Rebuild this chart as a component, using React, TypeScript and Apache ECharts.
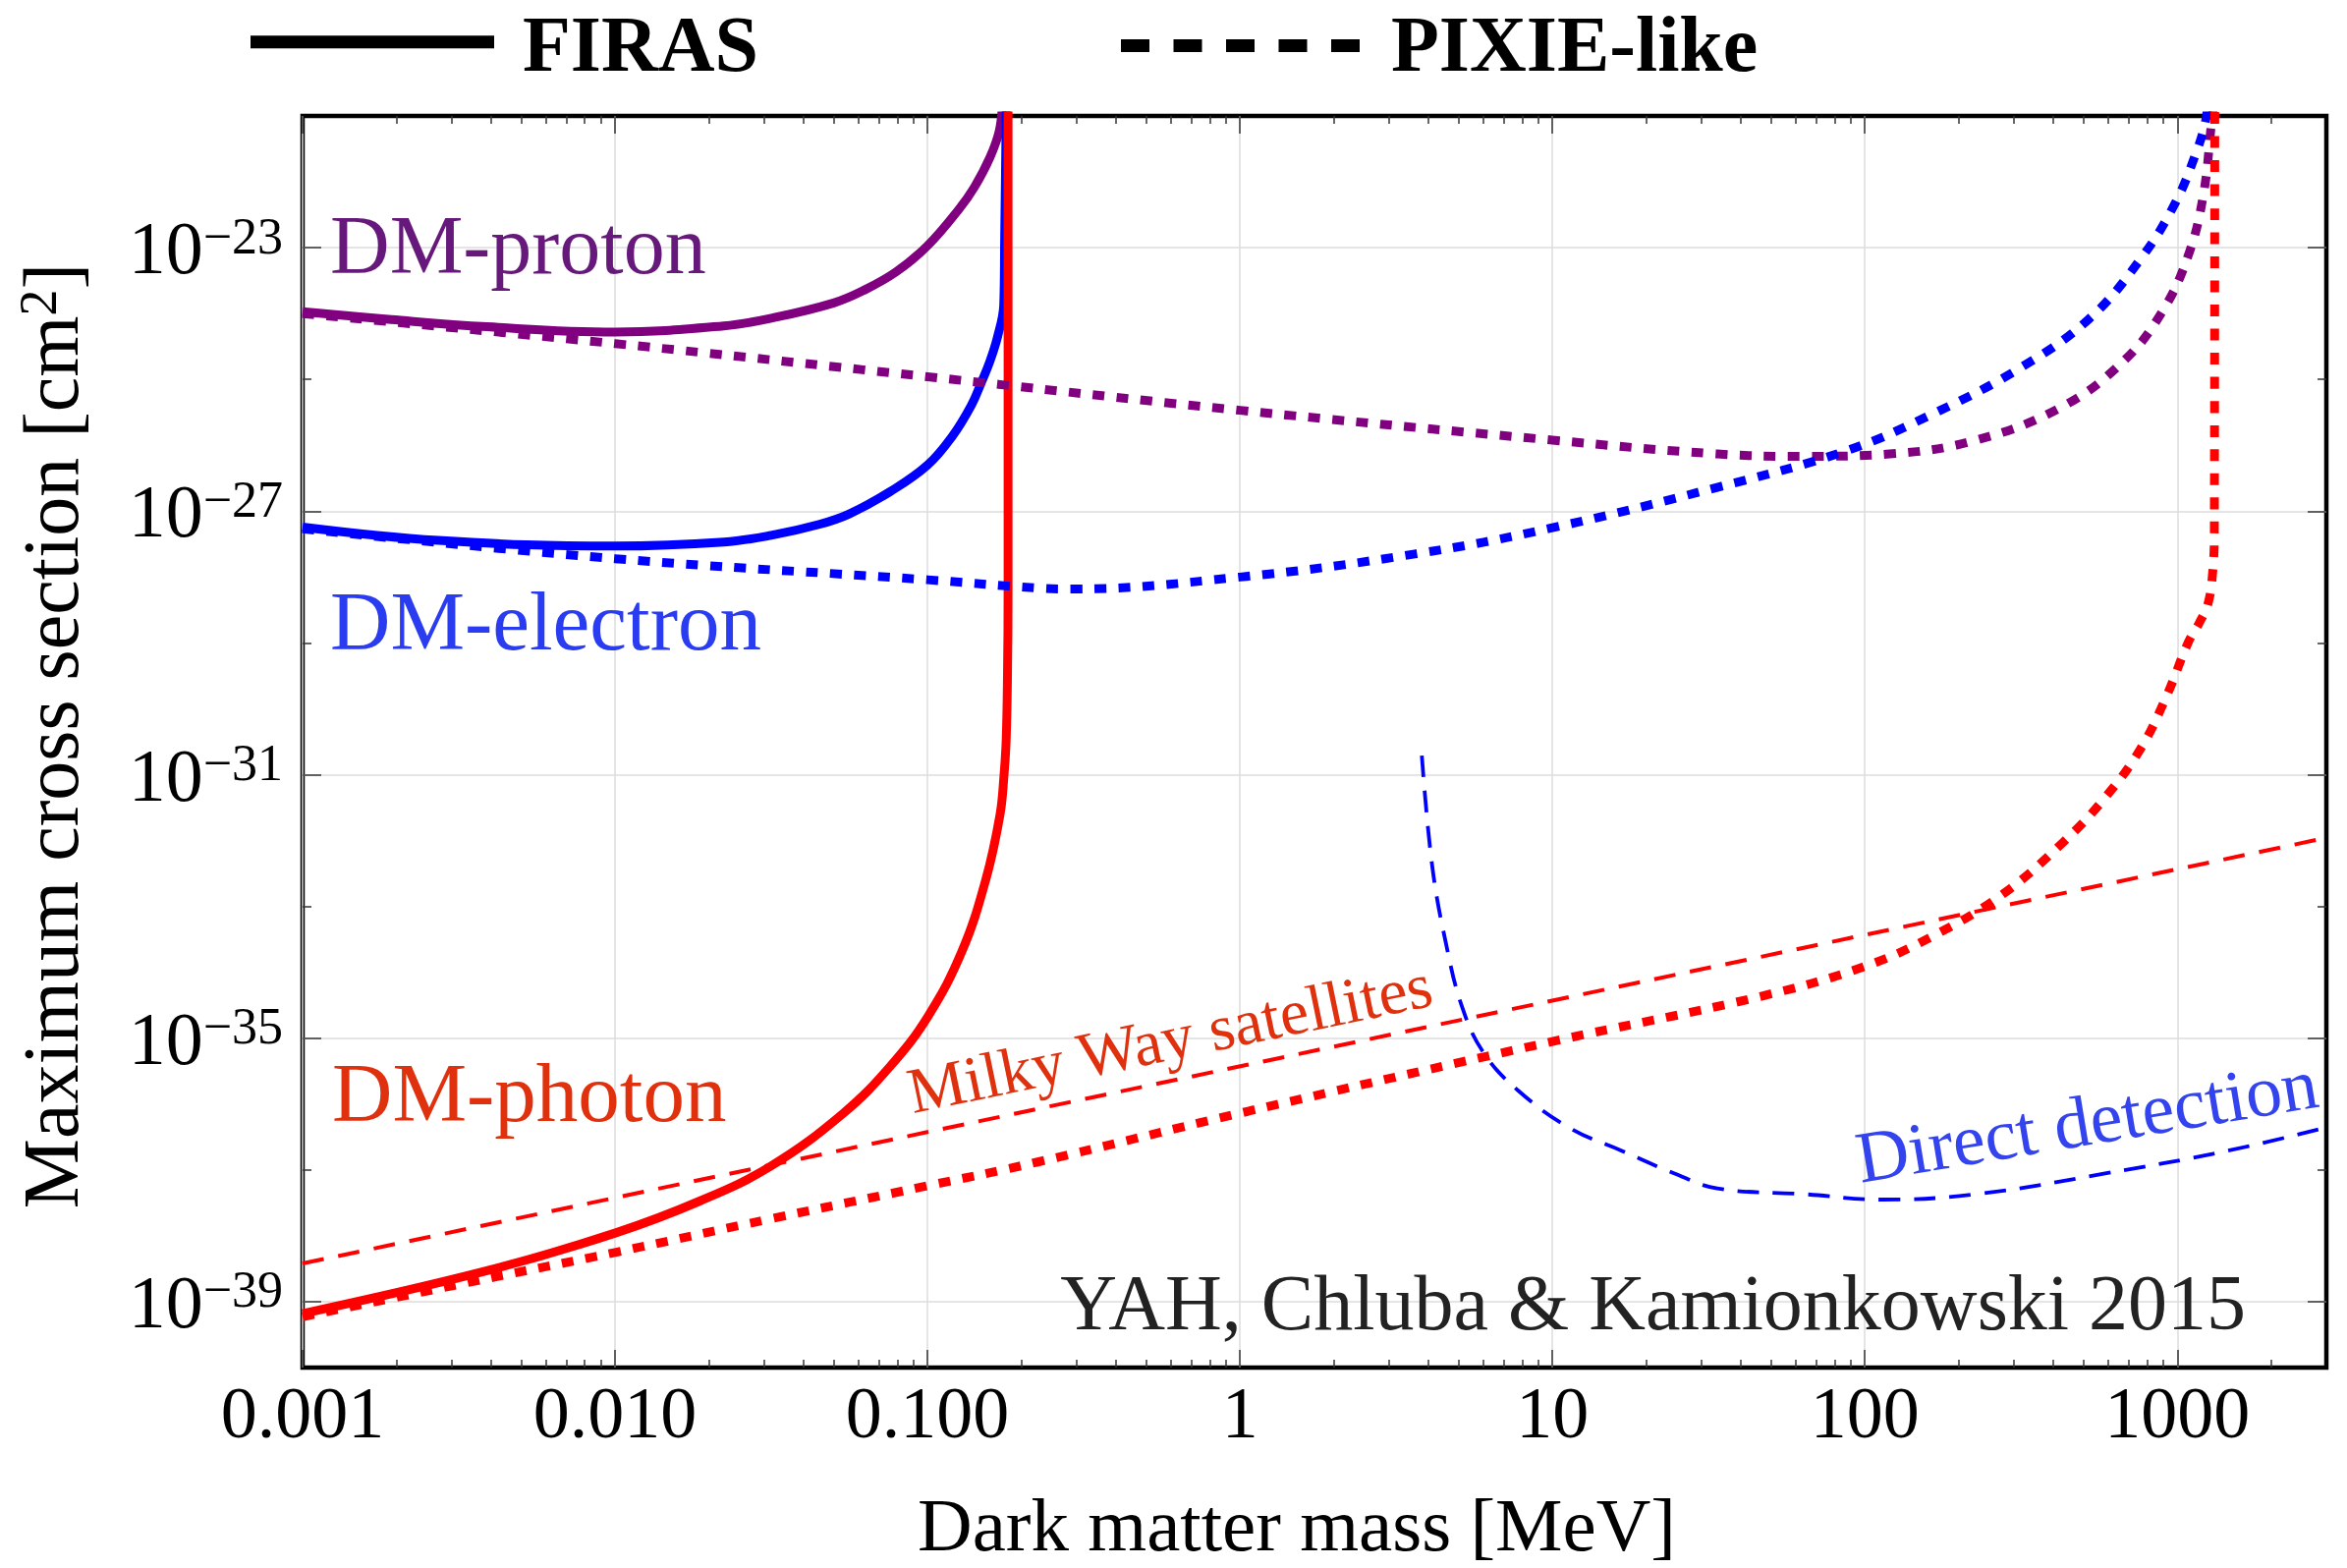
import React, { useEffect, useRef } from 'react';
import * as echarts from 'echarts';

const FONT = '"Liberation Serif", "Times New Roman", Times, serif';

// ---------- axes ----------
const X_MIN = 0.001;
const X_MAX = 3000;
const Y_MIN_EXP = -40;
const Y_MAX_EXP = -21;
const X_TICKS = [0.001, 0.01, 0.1, 1, 10, 100, 1000];
const X_TICK_LABELS = ['0.001', '0.010', '0.100', '1', '10', '100', '1000'];
const X_MINOR_FACTORS = [2, 3, 4, 5, 6, 7, 8, 9];
const Y_TICK_EXPONENTS = [-39, -35, -31, -27, -23];
const Y_MINOR_EXPONENTS = [-37, -33, -29, -25];

// ---------- data (mass in MeV, cross section in cm^2) ----------
// FIRAS
const FIRAS_PROTON_MASS = [0.001, 0.00192, 0.00389, 0.01, 0.0223, 0.0316, 0.0501, 0.0631, 0.0794, 0.1, 0.1259, 0.1413, 0.1585, 0.1698, 0.1738];
const FIRAS_PROTON_SIGMA = [1.07e-24, 8.1e-25, 6.3e-25, 5.25e-25, 6.5e-25, 8.5e-25, 1.45e-24, 2.3e-24, 4.3e-24, 1.07e-23, 3.8e-23, 8.3e-23, 2.35e-22, 6.0e-22, 1.6e-21];

const FIRAS_ELECTRON_MASS = [0.001, 0.00272, 0.01, 0.0223, 0.0316, 0.045, 0.0562, 0.0762, 0.1, 0.1202, 0.138, 0.1483, 0.1585, 0.1675, 0.1754, 0.1766, 0.1786, 0.179];
const FIRAS_ELECTRON_SIGMA = [5.75e-28, 3.6e-28, 2.95e-28, 3.4e-28, 4.3e-28, 6.3e-28, 9.1e-28, 2.0e-27, 5.0e-27, 1.38e-26, 4.0e-26, 8.7e-26, 1.9e-25, 4.4e-25, 1.35e-24, 1.35e-23, 1.0e-21, 3e-21];

const FIRAS_PHOTON_MASS = [0.001, 0.00389, 0.01, 0.01875, 0.0316, 0.0537, 0.0762, 0.1007, 0.129, 0.1535, 0.1706, 0.1758, 0.1786, 0.1803, 0.1811, 0.1811];
const FIRAS_PHOTON_SIGMA = [6.6e-40, 2.95e-39, 1.1e-38, 3.4e-38, 1.15e-37, 7.2e-37, 3.8e-36, 2.2e-35, 2.1e-34, 2.5e-33, 2.45e-32, 1.0e-31, 3.4e-31, 3.2e-30, 6.5e-29, 3e-21];

// PIXIE-like
const PIXIE_PROTON_MASS = [0.001, 0.01, 0.1, 1, 10, 33.7, 63.7, 120, 227, 430, 673, 895, 1084, 1211, 1288, 1334];
const PIXIE_PROTON_SIGMA = [1.0e-24, 3.5e-25, 1.1e-25, 3.4e-26, 1.2e-26, 7.4e-27, 6.8e-27, 7.4e-27, 1.2e-26, 3.9e-26, 1.9e-25, 1.07e-24, 7.6e-24, 6.2e-23, 8.1e-22, 3.2e-21];

const PIXIE_ELECTRON_MASS = [0.001, 0.01, 0.1, 0.225, 0.284, 1.0, 3.63, 10, 33.7, 87.5, 165, 313, 522, 764, 986, 1156, 1230, 1260];
const PIXIE_ELECTRON_SIGMA = [5.4e-28, 1.9e-28, 9.1e-29, 6.8e-29, 6.6e-29, 1.0e-28, 2.24e-28, 5.6e-28, 2.3e-27, 8.3e-27, 3.0e-26, 1.48e-25, 8.3e-25, 6.8e-24, 4.8e-23, 3.0e-22, 8.1e-22, 2e-21];

const PIXIE_PHOTON_MASS = [0.001, 0.00389, 0.01, 0.0316, 0.1, 0.2254, 1.016, 10, 46.3, 100, 165, 275, 430, 590, 764, 925, 1084, 1175, 1255, 1298, 1314, 1318];
const PIXIE_PHOTON_SIGMA = [5.9e-40, 2.24e-39, 5.6e-39, 1.82e-38, 5.75e-38, 1.32e-37, 7.4e-37, 8.9e-36, 4.3e-35, 1.23e-34, 3.55e-34, 1.51e-33, 9.3e-33, 4.6e-32, 2.5e-31, 1.58e-30, 1.02e-29, 2.0e-29, 4.0e-29, 1.2e-28, 5.0e-28, 3e-21];

// Other constraints
const MILKY_WAY_MASS = [0.001, 3000];
const MILKY_WAY_SIGMA = [3.8e-39, 1.1e-32];

const DIRECT_MASS = [3.82, 4.12, 4.54, 5.15, 6.04, 7.8, 11.4, 16.7, 24.5, 33.7, 63.7, 113, 228, 593, 1445, 2990];
const DIRECT_SIGMA = [1.95e-31, 4.3e-33, 3.1e-34, 2.9e-35, 5.9e-36, 1.58e-36, 4.3e-37, 1.95e-37, 8.9e-38, 5.25e-38, 4.3e-38, 3.55e-38, 4.3e-38, 8.9e-38, 1.95e-37, 4.4e-37];

// ---------- colours ----------
const PURPLE = '#800080';
const BLUE = '#0000ff';
const RED = '#ff0000';

const lg = (v: number) => Math.log10(v);

const X_MAJOR = X_TICKS.map(lg);
const X_MINOR: number[] = [];
for (let e = -3; e <= 3; e++) {
  for (const k of X_MINOR_FACTORS) {
    const v = k * Math.pow(10, e);
    if (v < X_MAX) X_MINOR.push(lg(v));
  }
}

function line(name: string, mass: number[], sigma: number[], color: string, width: number, dash: any, smooth = 0.4) {
  return {
    type: 'line',
    name,
    data: mass.map((m, i) => [lg(m), lg(sigma[i])]),
    showSymbol: false,
    symbol: 'none',
    smooth,
    silent: true,
    clip: true,
    lineStyle: { color, width, type: dash, cap: 'butt', join: 'round' },
  };
}

function xAxis(position: 'top' | 'bottom', ticks: number[], len: number, major: boolean, labels: boolean) {
  return {
    type: 'value',
    position,
    min: lg(X_MIN),
    max: lg(X_MAX),
    axisLine: { show: false, onZero: false },
    axisTick: { show: true, inside: true, length: len, customValues: ticks, lineStyle: { color: '#333', width: 1.5 } },
    axisLabel: labels
      ? {
          show: true,
          customValues: ticks,
          margin: 9,
          fontSize: 74,
          fontFamily: FONT,
          color: '#000',
          formatter: (v: number) => {
            const i = X_TICKS.findIndex((t) => Math.abs(lg(t) - v) < 1e-6);
            return i >= 0 ? X_TICK_LABELS[i] : '';
          },
        }
      : { show: false, customValues: ticks },
    splitLine: { show: major && labels, lineStyle: { color: '#dcdcdc', width: 1.5 } },
  };
}

function yAxis(position: 'left' | 'right', ticks: number[], len: number, major: boolean, labels: boolean) {
  return {
    type: 'value',
    position,
    min: Y_MIN_EXP,
    max: Y_MAX_EXP,
    axisLine: { show: false, onZero: false },
    axisTick: { show: true, inside: true, length: len, customValues: ticks, lineStyle: { color: '#333', width: 1.5 } },
    axisLabel: labels
      ? {
          show: true,
          customValues: ticks,
          margin: 20,
          fontFamily: FONT,
          color: '#000',
          formatter: (v: number) => `{b|10}{s|\u2212${Math.round(-v)}}`,
          rich: {
            b: { fontSize: 76, lineHeight: 76, fontFamily: FONT, color: '#000' },
            s: { fontSize: 52, lineHeight: 30, verticalAlign: 'top', fontFamily: FONT, color: '#000' },
          },
        }
      : { show: false, customValues: ticks },
    splitLine: { show: major && labels, lineStyle: { color: '#dcdcdc', width: 1.5 } },
  };
}

function txt(text: string, x: number, y: number, size: number, color: string, opts: any = {}) {
  return {
    type: 'text',
    x,
    y,
    rotation: opts.rotation || 0,
    silent: true,
    z: 100,
    style: {
      text,
      fontSize: size,
      fontFamily: FONT,
      fontWeight: opts.bold ? 'bold' : 'normal',
      fill: color,
      align: opts.align || 'left',
      verticalAlign: 'middle',
      rich: opts.rich,
    },
  };
}

const deg = (d: number) => (d * Math.PI) / 180;

const option: any = {
  animation: false,
  backgroundColor: '#ffffff',
  grid: {
    left: 308,
    right: 21,
    top: 118,
    bottom: 204,
    show: true,
    borderColor: '#000',
    borderWidth: 4.5,
    backgroundColor: 'transparent',
    containLabel: false,
    outerBoundsMode: 'none',
  },
  xAxis: [
    xAxis('bottom', X_MAJOR, 18, true, true),
    xAxis('bottom', X_MINOR, 8, false, false),
    xAxis('top', X_MAJOR, 18, true, false),
    xAxis('top', X_MINOR, 8, false, false),
  ],
  yAxis: [
    yAxis('left', Y_TICK_EXPONENTS, 19, true, true),
    yAxis('left', Y_MINOR_EXPONENTS, 9, false, false),
    yAxis('right', Y_TICK_EXPONENTS, 19, true, false),
    yAxis('right', Y_MINOR_EXPONENTS, 9, false, false),
  ],
  series: [
    line('FIRAS DM-proton', FIRAS_PROTON_MASS, FIRAS_PROTON_SIGMA, PURPLE, 9, 'solid'),
    line('FIRAS DM-electron', FIRAS_ELECTRON_MASS, FIRAS_ELECTRON_SIGMA, BLUE, 9, 'solid'),
    line('FIRAS DM-photon', FIRAS_PHOTON_MASS, FIRAS_PHOTON_SIGMA, RED, 9, 'solid'),
    line('PIXIE DM-proton', PIXIE_PROTON_MASS, PIXIE_PROTON_SIGMA, PURPLE, 9, [12, 12.5]),
    line('PIXIE DM-electron', PIXIE_ELECTRON_MASS, PIXIE_ELECTRON_SIGMA, BLUE, 9, [12, 12.5]),
    line('PIXIE DM-photon', PIXIE_PHOTON_MASS, PIXIE_PHOTON_SIGMA, RED, 9, [12, 12.5]),
    line('Milky Way satellites', MILKY_WAY_MASS, MILKY_WAY_SIGMA, RED, 4, [22, 15], 0),
    line('Direct detection', DIRECT_MASS, DIRECT_SIGMA, BLUE, 3.8, [22, 14]),
  ],
  graphic: {
    elements: [
      // legend
      { type: 'line', silent: true, shape: { x1: 255, y1: 42.7, x2: 503, y2: 42.7 }, style: { stroke: '#000', lineWidth: 13 } },
      txt('FIRAS', 532, 44.7, 80, '#000', { bold: true }),
      { type: 'line', silent: true, shape: { x1: 1141, y1: 46.5, x2: 1384, y2: 46.5 }, style: { stroke: '#000', lineWidth: 13, lineDash: [29, 24.5] } },
      txt('PIXIE-like', 1416, 44.7, 80, '#000', { bold: true }),
      // axis titles
      txt('Dark matter mass [MeV]', 1320, 1552, 77, '#000', { align: 'center' }),
      txt('{a|Maximum cross section [cm}{s|2}{a|]}', 52, 749, 80, '#000', {
        align: 'center',
        rotation: Math.PI / 2,
        rich: {
          a: { fontSize: 80, lineHeight: 80, fontFamily: FONT, fill: '#000' },
          s: { fontSize: 54, lineHeight: 40, verticalAlign: 'top', fontFamily: FONT, fill: '#000' },
        },
      }),
      // curve labels
      txt('DM-proton', 336, 249.6, 84, '#66197a'),
      txt('DM-electron', 336, 632.3, 85, '#2a3cf0'),
      txt('DM-photon', 338, 1112.3, 85, '#e0310f'),
      txt('Milky Way satellites', 1190.5, 1056.2, 66, '#e0310f', { align: 'center', rotation: deg(11.7) }),
      txt('Direct detection', 2124, 1140.3, 74, '#3344ee', { align: 'center', rotation: deg(9.4) }),
      txt('YAH, Chluba & Kamionkowski 2015', 2286, 1326.3, 80, '#222222', { align: 'right' }),
    ],
  },
};

export default function App() {
  const ref = useRef<HTMLDivElement>(null);
  useEffect(() => {
    if (!ref.current) return;
    const chart = echarts.init(ref.current, null, { renderer: 'svg' });
    chart.setOption(option);
    return () => {
      chart.dispose();
    };
  }, []);
  return (
    <div
      ref={ref}
      style={{ position: 'fixed', left: 0, top: 0, width: 2389, height: 1596, background: '#fff' }}
    />
  );
}
